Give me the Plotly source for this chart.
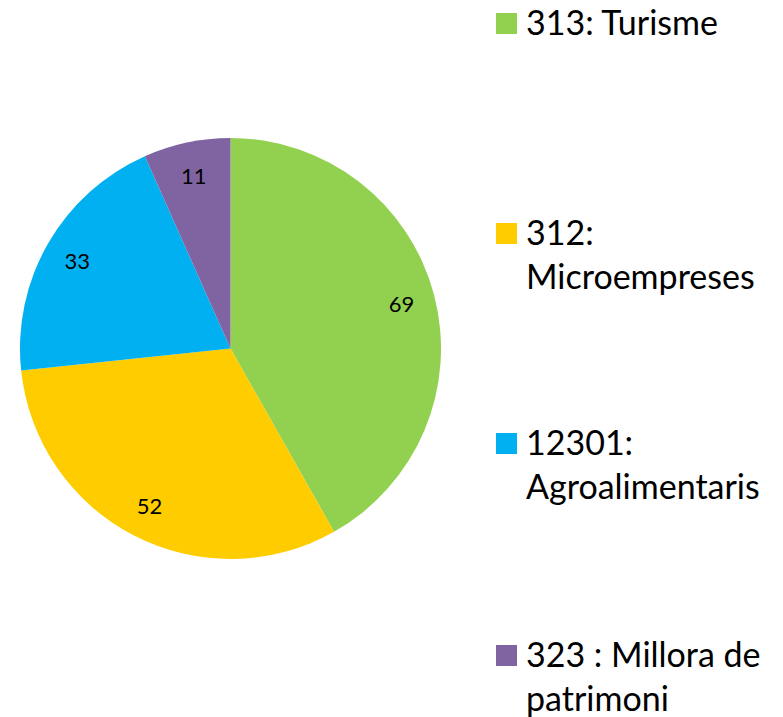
import plotly.graph_objects as go

labels = ["313: Turisme", "312:<br>Microempreses", "12301:<br>Agroalimentaris", "323 : Millora de<br>patrimoni"]
values = [69, 52, 33, 11]
colors = ["#92D050", "#FFCC00", "#00B0F0", "#8064A2"]

W, H = 783, 717
FONT = "Lato, 'Noto Sans', sans-serif"

cx0, cx1 = 20, 441
cy0, cy1 = 138, 559
dom = dict(x=[cx0 / W, cx1 / W], y=[1 - cy1 / H, 1 - cy0 / H])

fig = go.Figure()
fig.add_trace(go.Pie(
    labels=labels, values=values, sort=False, direction="clockwise", rotation=0,
    marker=dict(colors=colors, line=dict(width=0)),
    textinfo="none", domain=dom, showlegend=False, hoverinfo="label+value",
))
# transparent ring used to place value labels near the rim
fig.add_trace(go.Pie(
    labels=labels, values=values, sort=False, direction="clockwise", rotation=0,
    hole=0.68,
    marker=dict(colors=["rgba(0,0,0,0)"] * len(values), line=dict(width=0)),
    textinfo="value", textposition="inside", insidetextorientation="horizontal",
    textfont=dict(family=FONT, size=22, color="black"),
    domain=dom, showlegend=False, hoverinfo="skip",
))

# legend built from the category list
tops = [10, 220, 430, 642]
shapes = []
annotations = []
for i, (lab, col) in enumerate(zip(labels, colors)):
    t = tops[i]
    shapes.append(dict(type="rect", xref="paper", yref="paper",
                       x0=496 / W, x1=517 / W, y0=1 - (t + 24) / H, y1=1 - (t + 3) / H,
                       fillcolor=col, line=dict(width=0)))
    annotations.append(dict(text=lab, xref="paper", yref="paper",
                            x=524 / W, y=1 - (t - 11) / H, xanchor="left", yanchor="top",
                            align="left", showarrow=False,
                            font=dict(family=FONT, size=34, color="black")))

fig.update_layout(
    width=W, height=H, margin=dict(l=0, r=0, t=0, b=0),
    paper_bgcolor="white", plot_bgcolor="white",
    shapes=shapes, annotations=annotations, showlegend=False,
)
fig.write_html("out.html", config={"displayModeBar": False},
               post_script="document.body.style.margin='0';document.body.style.padding='0';")
